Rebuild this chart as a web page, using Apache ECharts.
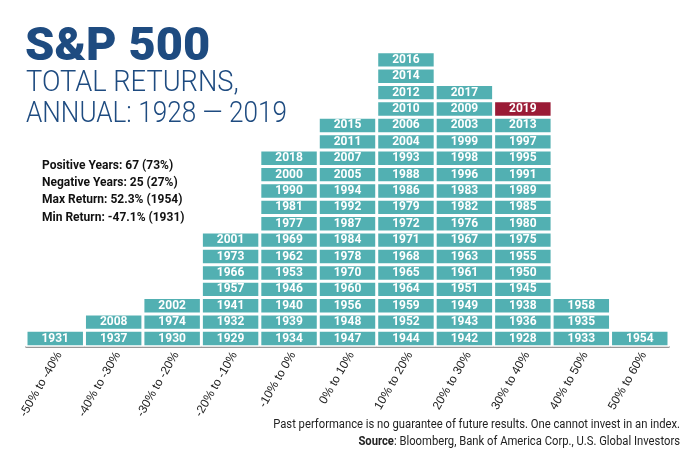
<!DOCTYPE html>
<html>
<head>
<meta charset="utf-8">
<script src="https://cdn.jsdelivr.net/npm/echarts@6/dist/echarts.min.js"></script>
<style>
html,body{margin:0;padding:0;background:#fff;}
#chart{width:690px;height:463px;}
</style>
</head>
<body>
<div id="chart"></div>
<script>
// Return bins (category labels)
var categories = ['-50% to -40%','-40% to -30%','-30% to -20%','-20% to -10%','-10% to 0%','0% to 10%','10% to 20%','20% to 30%','30% to 40%','40% to 50%','50% to 60%'];
// Years in each bin, listed bottom to top
var binNeg50 = [1931];
var binNeg40 = [1937, 2008];
var binNeg30 = [1930, 1974, 2002];
var binNeg20 = [1929, 1932, 1941, 1957, 1966, 1973, 2001];
var binNeg10 = [1934, 1939, 1940, 1946, 1953, 1962, 1969, 1977, 1981, 1990, 2000, 2018];
var binPos0  = [1947, 1948, 1956, 1960, 1970, 1978, 1984, 1987, 1992, 1994, 2005, 2007, 2011, 2015];
var binPos10 = [1944, 1952, 1959, 1964, 1965, 1968, 1971, 1972, 1979, 1986, 1988, 1993, 2004, 2006, 2010, 2012, 2014, 2016];
var binPos20 = [1942, 1943, 1949, 1951, 1961, 1963, 1967, 1976, 1982, 1983, 1996, 1998, 1999, 2003, 2009, 2017];
var binPos30 = [1928, 1936, 1938, 1945, 1950, 1955, 1975, 1980, 1985, 1989, 1991, 1995, 1997, 2013, 2019];
var binPos40 = [1933, 1935, 1958];
var binPos50 = [1954];
var highlightYear = 2019;
var statLines = ['Positive Years: 67 (73%)','Negative Years: 25 (27%)','Max Return: 52.3% (1954)','Min Return: -47.1% (1931)'];

var bins = [binNeg50, binNeg40, binNeg30, binNeg20, binNeg10, binPos0, binPos10, binPos20, binPos30, binPos40, binPos50];
var maxLevel = Math.max.apply(null, bins.map(function(b){return b.length;}));

var TEAL = '#52B0B2', RED = '#9A1B36', NAVY = '#1E4B80';
var series = [];
for (var k = 0; k < maxLevel; k++) {
  var data = bins.map(function(b){
    if (b.length > k) {
      var y = b[k];
      return {value: 1, year: y, itemStyle: {color: y === highlightYear ? RED : TEAL}};
    }
    return '-';
  });
  series.push({
    type: 'bar', stack: 'years', data: data, barWidth: '100%', barCategoryGap: '0%',
    itemStyle: {borderColor: '#ffffff', borderWidth: 1.5},
    label: {show: true, position: 'inside', color: '#fff', fontFamily: 'Roboto', fontWeight: 'bold', fontSize: 12,
      formatter: function(p){ return p.data && p.data.year ? String(p.data.year) : ''; }},
    emphasis: {disabled: true}, animation: false
  });
}

var chart = echarts.init(document.getElementById('chart'), null, {renderer: 'canvas'});
chart.setOption({
  animation: false,
  grid: {left: 26, right: 21, top: 51.7, bottom: 116.3, containLabel: false},
  xAxis: {
    type: 'category', data: categories,
    axisLine: {show: true, lineStyle: {color: '#777', width: 1.5}},
    axisTick: {show: false},
    axisLabel: {rotate: 60, color: '#222', fontFamily: 'Liberation Sans, sans-serif', fontSize: 12, margin: 13, padding: [0, -8, 0, 0]}
  },
  yAxis: {type: 'value', min: 0, max: maxLevel, interval: 1, show: false},
  series: series,
  graphic: [
    {type: 'text', x: 25, y: 25, style: {text: 'S&P 500', fill: NAVY, font: '900 47px Roboto'}},
    {type: 'text', x: 26, y: 69, scaleX: 0.94, style: {text: 'TOTAL RETURNS,', fill: NAVY, font: '300 29px Roboto'}},
    {type: 'text', x: 26, y: 100, scaleX: 0.9, style: {text: 'ANNUAL: 1928 \u2014 2019', fill: NAVY, font: '300 29px Roboto'}},
    {type: 'text', x: 42, y: 157, style: {text: statLines.join('\n'), fill: '#111', font: 'bold 12px Roboto', lineHeight: 17.3}},
    {type: 'text', x: 680, y: 418, scaleX: 0.9, style: {text: 'Past performance is no guarantee of future results. One cannot invest in an index.', fill: '#222', font: '12.5px Roboto', align: 'right'}},
    {type: 'text', x: 680, y: 435, scaleX: 0.9, style: {align: 'right', rich: {b: {fontWeight: 'bold', fill: '#222', fontFamily: 'Roboto', fontSize: 12.5}, n: {fill: '#222', fontFamily: 'Roboto', fontSize: 12.5}}, text: '{b|Source}{n|: Bloomberg, Bank of America Corp., U.S. Global Investors}'}}
  ]
});
</script>
</body>
</html>
